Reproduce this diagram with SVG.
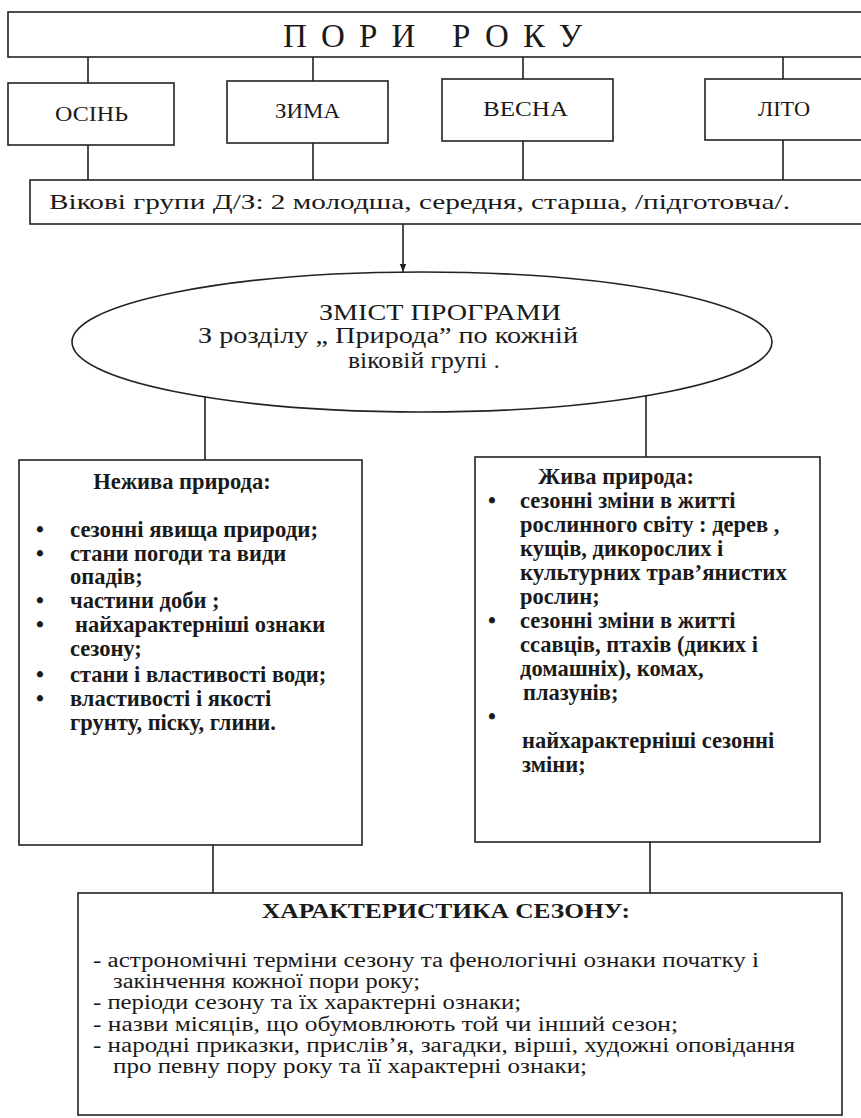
<svg xmlns="http://www.w3.org/2000/svg" width="861" height="1118" viewBox="0 0 861 1118">
<style>
.box{fill:#fff;stroke:#222;stroke-width:1.6}
.ln{fill:none;stroke:#222;stroke-width:1.6}
.t{font-family:"Liberation Serif","Times New Roman",serif;fill:#1a1a1a}
.b{font-family:"Liberation Serif","Times New Roman",serif;font-weight:bold;fill:#1a1a1a;font-size:22.5px}
.s{font-size:22px}
</style>
<defs>
<marker id="arr" viewBox="0 0 10 10" refX="10" refY="5" markerWidth="8" markerHeight="8" orient="auto" markerUnits="userSpaceOnUse">
<path d="M0,1 L10,5 L0,9 z" fill="#222"/>
</marker>
</defs>
<rect width="861" height="1118" fill="#fff"/>
<g id="connectors">
<path class="ln" d="M88,57V83 M313,57V81 M523,57V79 M783,57V79"/>
<path class="ln" d="M88,145V180 M313,143V180 M523,141V180 M783,140V180"/>
<path class="ln" d="M403,224V272" marker-end="url(#arr)"/>
<path class="ln" d="M205,397V460 M646,396V458"/>
<path class="ln" d="M213,845V893 M650,842V893"/>
</g>
<g id="pori-roku">
<rect class="box" x="8" y="12" width="870" height="45"/>
<text class="t" x="283" y="47" font-size="33" textLength="299" lengthAdjust="spacing">ПОРИ  РОКУ</text>
</g>
<g id="osin">
<rect class="box" x="8" y="83" width="166" height="62"/>
<text class="t s" x="55" y="121" textLength="73" lengthAdjust="spacingAndGlyphs">ОСІНЬ</text>
</g>
<g id="zyma">
<rect class="box" x="227" y="81" width="161" height="62"/>
<text class="t s" x="275" y="118" textLength="65" lengthAdjust="spacingAndGlyphs">ЗИМА</text>
</g>
<g id="vesna">
<rect class="box" x="442" y="79" width="171" height="62"/>
<text class="t s" x="483" y="116" textLength="85" lengthAdjust="spacingAndGlyphs">ВЕСНА</text>
</g>
<g id="lito">
<rect class="box" x="705" y="79" width="170" height="61"/>
<text class="t s" x="758" y="116" textLength="52" lengthAdjust="spacingAndGlyphs">ЛІТО</text>
</g>
<g id="vikovi">
<rect class="box" x="30" y="180" width="850" height="44"/>
<text class="t" x="49" y="209" font-size="22" textLength="741" lengthAdjust="spacingAndGlyphs">Вікові групи Д/З: 2 молодша, середня, старша,  /підготовча/.</text>
</g>
<g id="zmist">
<ellipse class="box" cx="422" cy="342" rx="350" ry="70"/>
<g class="t" font-size="23">
<text x="319" y="320" textLength="242" lengthAdjust="spacingAndGlyphs">ЗМІСТ ПРОГРАМИ</text>
<text x="198" y="343" textLength="380" lengthAdjust="spacingAndGlyphs">З розділу „ Природа” по кожній</text>
<text x="348" y="368" textLength="152" lengthAdjust="spacingAndGlyphs">віковій  групі .</text>
</g>
</g>
<g id="nezhyva">
<rect class="box" x="19" y="460" width="343" height="385"/>
<text class="b" x="182" y="489" text-anchor="middle">Нежива природа:</text>
<g class="b">
<text x="40" y="537" text-anchor="middle">•</text><text x="70" y="537" textLength="248" lengthAdjust="spacingAndGlyphs">сезонні явища  природи;</text>
<text x="40" y="561" text-anchor="middle">•</text><text x="70" y="561">стани погоди та види</text>
<text x="70" y="584">опадів;</text>
<text x="40" y="608" text-anchor="middle">•</text><text x="70" y="608">частини доби ;</text>
<text x="40" y="632" text-anchor="middle">•</text><text x="75" y="632">найхарактерніші ознаки</text>
<text x="70" y="656">сезону;</text>
<text x="40" y="682" text-anchor="middle">•</text><text x="70" y="682">стани і властивості води;</text>
<text x="40" y="706" text-anchor="middle">•</text><text x="70" y="706">властивості і якості</text>
<text x="70" y="730">грунту, піску, глини.</text>
</g>
</g>
<g id="zhyva">
<rect class="box" x="475" y="457" width="345" height="385"/>
<g class="b">
<text x="538" y="484">Жива природа:</text>
<text x="492" y="508" text-anchor="middle">•</text><text x="520" y="508">сезонні зміни в житті</text>
<text x="520" y="532">рослинного світу : дерев ,</text>
<text x="520" y="556">кущів, дикорослих і</text>
<text x="520" y="580" textLength="267" lengthAdjust="spacingAndGlyphs">культурних трав’янистих</text>
<text x="520" y="604">рослин;</text>
<text x="492" y="628" text-anchor="middle">•</text><text x="520" y="628">сезонні зміни в житті</text>
<text x="520" y="652">ссавців, птахів (диких і</text>
<text x="520" y="676">домашніх), комах,</text>
<text x="523" y="700">плазунів;</text>
<text x="492" y="724" text-anchor="middle">•</text>
<text x="522" y="748">найхарактерніші сезонні</text>
<text x="522" y="772">зміни;</text>
</g>
</g>
<g id="kharakterystyka">
<rect class="box" x="78" y="893" width="764" height="222"/>
<text class="t" x="262" y="918" font-size="21" font-weight="bold" textLength="368" lengthAdjust="spacingAndGlyphs">ХАРАКТЕРИСТИКА СЕЗОНУ:</text>
<g class="t" font-size="20">
<text x="93" y="967" textLength="666" lengthAdjust="spacingAndGlyphs">- астрономічні терміни сезону та фенологічні ознаки початку і</text>
<text x="113" y="988" textLength="307" lengthAdjust="spacingAndGlyphs">закінчення кожної пори року;</text>
<text x="93" y="1009" textLength="428" lengthAdjust="spacingAndGlyphs">- періоди сезону та їх характерні ознаки;</text>
<text x="93" y="1031" textLength="585" lengthAdjust="spacingAndGlyphs">- назви місяців, що обумовлюють  той чи інший сезон;</text>
<text x="93" y="1052" textLength="702" lengthAdjust="spacingAndGlyphs">- народні приказки, прислів’я, загадки, вірші, художні оповідання</text>
<text x="113" y="1073" textLength="474" lengthAdjust="spacingAndGlyphs">про певну пору року та її характерні ознаки;</text>
</g>
</g>
</svg>
